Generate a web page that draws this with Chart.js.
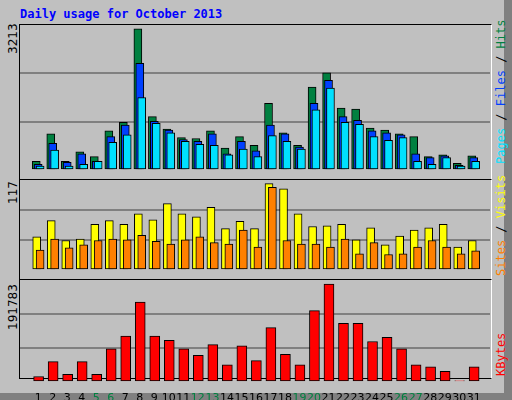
<!DOCTYPE html>
<html><head><meta charset="utf-8">
<script src="https://cdn.jsdelivr.net/npm/chart.js@4"></script>
<style>
body{margin:0;width:512px;height:400px;background:#c0c0c0;position:relative;overflow:hidden;font-family:"DejaVu Sans Mono",monospace}
#outer{position:absolute;left:0;top:0;width:504px;height:393px;border-right:8px solid #808080;border-bottom:7px solid #808080}
.title{position:absolute;left:20px;top:7px;color:#0000ff;font-weight:bold;font-size:12px}
.panel{position:absolute;left:19px;width:471px;border:1px solid #000;border-right:1px solid #fff;}
canvas{position:absolute}
.rot{position:absolute;transform:rotate(-90deg);transform-origin:left top;white-space:nowrap;font-size:12px}
.lab{font-family:"DejaVu Sans",sans-serif;color:#000;font-size:12px}
</style></head><body>
<div id="outer"></div>
<div class="title">Daily usage for October 2013</div>
<div class="panel" style="top:24px;height:154px"></div>
<div class="panel" style="top:179px;height:99px"></div>
<div class="panel" style="top:279px;height:98px"></div>
<canvas id="c1" style="left:20px;top:25px"></canvas>
<canvas id="c2" style="left:20px;top:180px"></canvas>
<canvas id="c3" style="left:20px;top:280px"></canvas>
<div class="rot lab" style="left:6px;top:54px">3213</div>
<div class="rot lab" style="left:6px;top:204px">117</div>
<div class="rot lab" style="left:6px;top:330px">191783</div>
<div class="rot" style="left:494px;top:164px"><span style="color:#00e0ff">Pages</span> / <span style="color:#0040ff">Files</span> / <span style="color:#008040">Hits</span></div>
<div class="rot" style="left:494px;top:276px"><span style="color:#ff8000">Sites</span> / <span style="color:#ffff00">Visits</span></div>
<div class="rot" style="left:494px;top:376px"><span style="color:#ff0000">KBytes</span></div>
<script>
const days=[1,2,3,4,5,6,7,8,9,10,11,12,13,14,15,16,17,18,19,20,21,22,23,24,25,26,27,28,29,30,31];
const weekend=[5,6,12,13,19,20,26,27];
const hits=[195,825,195,412,304,890,1085,3213,1215,933,738,716,890,499,760,564,1519,846,564,1888,2213,1410,1389,955,911,825,760,304,347,152,325];
const files=[130,608,174,369,195,760,1020,2430,1107,911,694,651,825,369,651,434,1020,825,521,1519,2040,1215,1128,890,846,800,369,282,325,108,282];
const pages=[87,456,87,130,195,630,803,1650,1063,846,651,586,564,347,477,304,781,651,477,1367,1866,1085,1042,760,673,738,195,130,282,87,195];
const visits=[45,67,40,42,62,67,62,76,68,90,76,72,85,56,66,56,117,110,76,59,60,62,41,57,34,46,54,57,62,31,40];
const sites=[27,42,30,34,40,42,41,47,39,35,41,45,37,35,54,31,112,40,35,35,31,42,22,37,21,22,31,40,31,22,26];
const kbytes=[10400,39600,14600,39600,14600,64600,89600,156400,89600,81300,64600,52100,73000,33400,70900,41700,106300,54200,33400,139700,191783,114700,114700,79200,87600,64600,33400,29200,20800,1500,29200];

const pts=(arr,off)=>arr.map((v,i)=>({x:days[i]+off,y:v}));
function ds(arr,off,color,w){return {data:pts(arr,off),backgroundColor:color,borderColor:'#000',borderWidth:1,borderSkipped:false,barThickness:w,grouped:false};}
function mk(id,w,h,datasets,max,showX){
  const c=document.getElementById(id);c.width=w;c.height=h;c.style.width=w+'px';c.style.height=h+'px';
  new Chart(c,{type:'bar',data:{datasets},options:{responsive:false,animation:false,devicePixelRatio:1,
    layout:{padding:0},plugins:{legend:{display:false},tooltip:{enabled:false}},
    scales:{x:{type:'linear',min:0.27,max:31.6,grid:{display:false},border:{display:false},
      afterBuildTicks:s=>{s.ticks=days.map(d=>({value:d}));},
      ticks:{display:showX,autoSkip:false,maxRotation:0,padding:2,font:{family:'DejaVu Sans',size:11},
        color:ctx=>weekend.includes(ctx.tick.value)?'#008040':'#000'}},
      y:{min:0,max:max,ticks:{display:false,stepSize:max/3},border:{display:false},
        grid:{drawTicks:false,color:ctx=>(ctx.index===1||ctx.index===2)?'#808080':'rgba(0,0,0,0)',lineWidth:2}}}}});
}
mk('c1',470,153,[ds(pages,0.133,'#00e0ff',8),ds(files,0,'#0040ff',8),ds(hits,-0.133,'#008040',8)],3300,false);
mk('c2',470,98,[ds(sites,0.133,'#ff8000',8),ds(visits,-0.1,'#ffff00',8)],122,false);
mk('c3',470,127,[ds(kbytes,0.03,'#ff0000',10)],200000,true);
</script></body></html>
